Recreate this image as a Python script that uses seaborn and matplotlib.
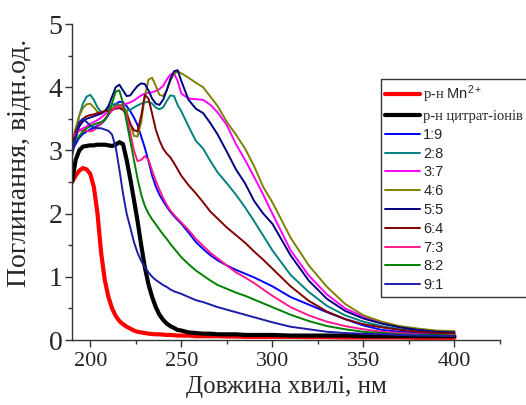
import matplotlib
matplotlib.use("Agg")
import matplotlib.pyplot as plt
import seaborn as sns
import pandas as pd
from matplotlib.ticker import MultipleLocator

wavelength = [190, 192, 194, 196, 198, 200, 202, 204, 206, 208, 210, 212, 214, 216, 218, 220,
              222, 224, 226, 228, 230, 232, 234, 236, 238, 240, 242, 244, 246, 248, 250,
              254, 258, 262, 266, 270,
              275, 280, 285, 290, 295, 300,
              310, 320, 330, 340, 350, 360, 370, 380, 390, 400]

mn = [2.5, 2.6, 2.68, 2.72, 2.7, 2.63, 2.42, 2.0, 1.38, 0.95, 0.68, 0.5, 0.38, 0.3, 0.25, 0.21,
      0.18, 0.15, 0.13, 0.12, 0.11, 0.1, 0.095, 0.09, 0.09, 0.085, 0.08, 0.08, 0.075, 0.07, 0.07,
      0.07, 0.06, 0.06, 0.06, 0.06,
      0.055, 0.055, 0.05, 0.05, 0.05, 0.05,
      0.05, 0.045, 0.045, 0.04, 0.04, 0.04, 0.04, 0.035, 0.035, 0.035]
citrate = [2.5, 2.85, 3.0, 3.06, 3.07, 3.08, 3.08, 3.09, 3.09, 3.09, 3.08, 3.07, 3.09, 3.13, 3.1, 2.85,
           2.55, 2.22, 1.88, 1.5, 1.15, 0.88, 0.68, 0.52, 0.4, 0.32, 0.26, 0.22, 0.19, 0.16, 0.15,
           0.12, 0.11, 0.1, 0.1, 0.09,
           0.09, 0.09, 0.08, 0.08, 0.08, 0.08,
           0.07, 0.07, 0.07, 0.07, 0.06, 0.06, 0.06, 0.06, 0.06, 0.06]
r1_9 = [3.0, 3.1, 3.2, 3.26, 3.3, 3.33, 3.36, 3.39, 3.42, 3.48, 3.56, 3.65, 3.73, 3.77, 3.76, 3.7,
        3.62, 3.52, 3.4, 3.22, 3.04, 2.83, 2.6, 2.43, 2.3, 2.2, 2.11, 2.03, 1.96, 1.9, 1.84,
        1.7, 1.55, 1.44, 1.34, 1.26,
        1.18, 1.11, 1.05, 0.99, 0.92, 0.85,
        0.68, 0.56, 0.44, 0.33, 0.23, 0.16, 0.13, 0.11, 0.1, 0.09]
r2_8 = [3.05, 3.3, 3.55, 3.74, 3.85, 3.88, 3.8, 3.68, 3.61, 3.62, 3.67, 3.72, 3.74, 3.72, 3.66, 3.63,
        3.64, 3.68, 3.71, 3.74, 3.76, 3.77, 3.74, 3.68, 3.65, 3.68, 3.78, 3.87, 3.86, 3.72, 3.62,
        3.38, 3.15, 3.03, 2.83, 2.65,
        2.48, 2.3, 2.1, 1.88, 1.65, 1.42,
        1.03, 0.76, 0.54, 0.39, 0.29, 0.22, 0.17, 0.14, 0.12, 0.11]
r3_7 = [3.2, 3.27, 3.32, 3.35, 3.38, 3.42, 3.45, 3.48, 3.52, 3.57, 3.61, 3.65, 3.68, 3.71, 3.73, 3.74,
        3.76, 3.79, 3.83, 3.87, 3.9, 3.91, 3.92, 3.94, 3.97, 4.02, 4.12, 4.2, 4.22, 4.1, 3.9,
        3.82, 3.81, 3.8, 3.72, 3.6,
        3.4, 3.1, 2.85, 2.58, 2.3, 2.0,
        1.42, 1.02, 0.72, 0.5, 0.37, 0.28, 0.21, 0.17, 0.14, 0.13]
r4_6 = [3.1, 3.35, 3.55, 3.67, 3.73, 3.74, 3.68, 3.61, 3.59, 3.62, 3.65, 3.67, 3.7, 3.72, 3.7, 3.62,
        3.42, 3.23, 3.22, 3.45, 3.85, 4.12, 4.15, 4.02, 3.88, 3.86, 3.95, 4.1, 4.21, 4.25, 4.22,
        4.15, 4.07, 4.0, 3.85, 3.7,
        3.45, 3.25, 3.03, 2.75, 2.42, 2.18,
        1.62, 1.18, 0.84, 0.57, 0.39, 0.29, 0.22, 0.18, 0.15, 0.14]
r5_5 = [2.95, 3.2, 3.38, 3.46, 3.5, 3.52, 3.54, 3.56, 3.58, 3.62, 3.7, 3.85, 4.0, 4.04, 3.95, 3.86,
        3.87, 3.95, 4.02, 4.06, 4.05, 3.95, 3.82, 3.74, 3.72, 3.8, 3.95, 4.13, 4.25, 4.27, 4.1,
        3.8, 3.66, 3.59, 3.43, 3.25,
        2.98, 2.7, 2.48, 2.2, 2.0, 1.84,
        1.34, 0.94, 0.65, 0.46, 0.34, 0.26, 0.2, 0.16, 0.13, 0.12]
r6_4 = [3.1, 3.3, 3.43, 3.5, 3.54, 3.56, 3.57, 3.59, 3.6, 3.62, 3.63, 3.64, 3.66, 3.67, 3.64, 3.56,
        3.42, 3.32, 3.3, 3.55, 3.88, 3.82, 3.58, 3.33, 3.16, 3.03, 2.95, 2.89, 2.8, 2.7, 2.6,
        2.45, 2.32, 2.18, 2.03, 1.92,
        1.78, 1.66, 1.54, 1.4, 1.27, 1.13,
        0.85, 0.62, 0.45, 0.33, 0.25, 0.2, 0.16, 0.13, 0.11, 0.1]
r7_3 = [3.2, 3.27, 3.31, 3.32, 3.31, 3.3, 3.32, 3.37, 3.43, 3.5, 3.57, 3.63, 3.68, 3.7, 3.68, 3.55,
        3.28, 3.0, 2.83, 2.85, 2.91, 2.85, 2.68, 2.52, 2.38, 2.25, 2.14, 2.05, 1.98, 1.92, 1.86,
        1.74, 1.6, 1.49, 1.38, 1.29,
        1.18, 1.07, 0.99, 0.9, 0.8, 0.7,
        0.52, 0.39, 0.29, 0.22, 0.17, 0.13, 0.11, 0.09, 0.08, 0.08]
r8_2 = [3.05, 3.15, 3.23, 3.3, 3.35, 3.38, 3.41, 3.43, 3.45, 3.48, 3.58, 3.75, 3.93, 3.95, 3.75, 3.45,
        3.15, 2.85, 2.55, 2.3, 2.12, 2.0, 1.91, 1.83, 1.75, 1.67, 1.6, 1.52, 1.45, 1.38, 1.31,
        1.2, 1.1, 1.02, 0.94, 0.87,
        0.81, 0.75, 0.7, 0.64, 0.58, 0.52,
        0.4, 0.3, 0.22, 0.17, 0.13, 0.11, 0.09, 0.08, 0.08, 0.07]
r9_1 = [2.9, 3.2, 3.45, 3.5, 3.45, 3.39, 3.36, 3.35, 3.35, 3.33, 3.31, 3.25, 3.05, 2.7, 2.32, 2.0,
        1.78, 1.55, 1.38, 1.25, 1.15, 1.07, 1.0, 0.95, 0.91, 0.87, 0.84, 0.8, 0.77, 0.75, 0.73,
        0.68, 0.63, 0.6, 0.56, 0.52,
        0.48, 0.44, 0.4, 0.36, 0.32, 0.28,
        0.21, 0.17, 0.13, 0.11, 0.1, 0.09, 0.08, 0.07, 0.07, 0.06]

labels = ["р-н $\\mathrm{Mn^{2+}}$", "р-н цитрат-іонів", "1:9", "2:8", "3:7", "4:6", "5:5", "6:4", "7:3", "8:2", "9:1"]
series = [mn, citrate, r1_9, r2_8, r3_7, r4_6, r5_5, r6_4, r7_3, r8_2, r9_1]
colors = ["#ff0000", "#000000", "#0000ff", "#008080", "#ff00ff", "#808000", "#000080",
          "#800000", "#ff1a8c", "#008000", "#1c1ca8"]
widths = [3.0, 3.0, 1.4, 1.4, 1.4, 1.4, 1.4, 1.4, 1.4, 1.4, 1.4]

sns.set_theme(style="ticks")
plt.rcParams["font.family"] = ["Liberation Serif", "DejaVu Serif"]
plt.rcParams["mathtext.fontset"] = "custom"
plt.rcParams["mathtext.rm"] = "Liberation Sans"
plt.rcParams["mathtext.it"] = "Liberation Sans:italic"
plt.rcParams["mathtext.bf"] = "Liberation Sans:bold"

fig = plt.figure(figsize=(5.26, 4.05), dpi=100)
ax = fig.add_axes([72 / 526, 65 / 405, 428 / 526, 316 / 405])

for vals, lab, col, lw in zip(series, labels, colors, widths):
    df = pd.DataFrame({"wavelength": wavelength, "absorbance": vals})
    sns.lineplot(data=df, x="wavelength", y="absorbance", ax=ax, color=col,
                 linewidth=lw, label=lab, estimator=None, sort=False)

ax.set_xlim(190, 425)
ax.set_ylim(0, 5)
ax.xaxis.set_minor_locator(MultipleLocator(25))
ax.yaxis.set_major_locator(MultipleLocator(1))
ax.yaxis.set_minor_locator(MultipleLocator(0.5))
ax.set_xticks([200, 250, 300, 350, 400])
ax.set_xticklabels(["200", "250", "300", "350", "400"])

for s in ["top", "right"]:
    ax.spines[s].set_visible(False)
for s in ["left", "bottom"]:
    ax.spines[s].set_color("#333333")
    ax.spines[s].set_linewidth(1.0)

ax.tick_params(axis="both", which="major", direction="out", length=5, width=1, color="#333333", pad=2)
ax.tick_params(axis="both", which="minor", direction="out", length=3, width=1, color="#333333")
ax.tick_params(axis="x", labelsize=16, pad=4)
ax.tick_params(axis="y", labelsize=20)

ax.set_xlabel("Довжина хвилі, нм", fontsize=18, labelpad=3)
ax.set_ylabel("Поглинання, відн.од.", fontsize=20)
ax.yaxis.set_label_coords(-0.095, 0.56)

leg = ax.legend(loc="upper left", bbox_to_anchor=(381 / 526, 326 / 405), bbox_transform=fig.transFigure,
                frameon=True, fancybox=False, framealpha=1, edgecolor="#333333", fontsize=10.5,
                handlelength=2.4, handletextpad=0.2, borderpad=0.3, labelspacing=0.33, borderaxespad=0)
leg.get_frame().set_linewidth(1.0)
for i, t in enumerate(leg.get_texts()):
    if i >= 2:
        t.set_fontfamily(["Liberation Sans", "DejaVu Sans"])

fig.savefig("out.png", dpi=100)
